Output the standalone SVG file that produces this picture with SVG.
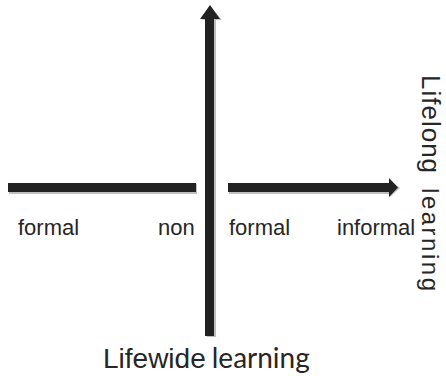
<svg xmlns="http://www.w3.org/2000/svg" width="446" height="376" viewBox="0 0 446 376">
<style>
.bar{fill:#222222}
.sh{fill:#bfbfbf}
.t{font-family:"Liberation Sans",Arial,sans-serif;fill:#262626}
.l{font-family:Lato,"Liberation Sans",sans-serif;fill:#262626}
</style>
<rect width="446" height="376" fill="#ffffff"/>
<g id="connectors">
  <g id="left-bar">
    <rect class="sh" x="9" y="184" width="188" height="10"/>
    <rect class="bar" x="8" y="183" width="188" height="9"/>
  </g>
  <g id="right-arrow">
    <polygon class="sh" points="229,184 390,184 390,180 400,188 390,197 390,194 229,194"/>
    <polygon class="bar" points="228,183 389,183 389,178 398,187.5 389,197 389,192 228,192"/>
  </g>
  <g id="vertical-arrow">
    <polygon class="sh" points="207,337 207,20 202,20 211,7 222,20 216,20 216,337"/>
    <polygon class="bar" points="205,336 205,19 200,19 210,5 220,19 214,19 214,336"/>
  </g>
</g>
<g id="label-formal-left"><text class="t" x="18" y="235" font-size="22">formal</text></g>
<g id="label-non"><text class="t" x="158" y="235" font-size="22">non</text></g>
<g id="label-formal-right"><text class="t" x="229" y="235" font-size="22">formal</text></g>
<g id="label-informal"><text class="t" x="337" y="235" font-size="22">informal</text></g>
<g id="label-lifewide"><text x="103" y="368"><tspan class="t" font-size="28">Lifewide</tspan><tspan class="l" font-size="28" dx="6">learning</tspan></text></g>
<g id="label-lifelong"><text transform="translate(422,75) rotate(90)"><tspan class="t" font-size="26" letter-spacing="1">Lifelong</tspan><tspan class="t" font-size="24" dx="14" letter-spacing="2.5">learning</tspan></text></g>
</svg>
